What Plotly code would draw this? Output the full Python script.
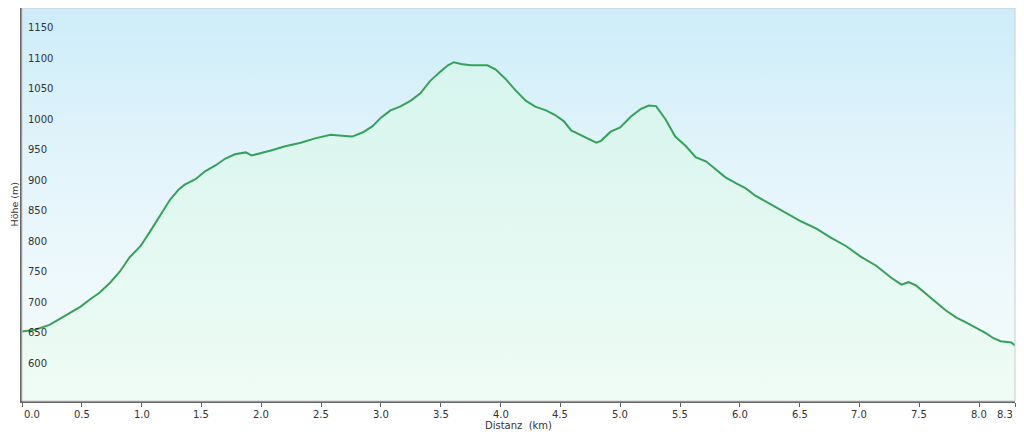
import plotly.graph_objects as go

# Elevation profile (distance km, elevation m)
distance_km = [0.00, 0.11, 0.23, 0.32, 0.40, 0.49, 0.57, 0.65, 0.74, 0.82, 0.90, 0.99,
               1.07, 1.15, 1.24, 1.31, 1.36, 1.45, 1.53, 1.62, 1.70, 1.78, 1.87, 1.92,
               1.99, 2.08, 2.20, 2.33, 2.45, 2.58, 2.70, 2.76, 2.85, 2.93, 3.00, 3.08,
               3.16, 3.25, 3.33, 3.41, 3.50, 3.56, 3.61, 3.67, 3.75, 3.83, 3.89, 3.96,
               4.04, 4.12, 4.21, 4.29, 4.38, 4.46, 4.53, 4.59, 4.67, 4.75, 4.80, 4.84,
               4.92, 5.00, 5.09, 5.17, 5.24, 5.30, 5.38, 5.46, 5.55, 5.63, 5.72, 5.80,
               5.88, 5.97, 6.05, 6.13, 6.26, 6.38, 6.51, 6.64, 6.76, 6.89, 7.01, 7.14,
               7.26, 7.35, 7.41, 7.47, 7.56, 7.64, 7.72, 7.81, 7.89, 7.97, 8.06, 8.12,
               8.18, 8.27, 8.30]
elevation_m = [664, 667, 675, 685, 695, 705, 717, 728, 745, 763, 786, 804,
               828, 854, 881, 897, 905, 914, 927, 937, 948, 955, 958, 953,
               956, 961, 968, 974, 981, 987, 985, 984, 991, 1001, 1015, 1027,
               1033, 1043, 1055, 1075, 1091, 1101, 1106, 1103, 1101, 1101, 1101, 1094,
               1079, 1061, 1043, 1033, 1027, 1019, 1009, 994, 986, 979, 974, 977,
               992, 999, 1017, 1029, 1035, 1034, 1012, 984, 968, 950, 943, 930,
               917, 907, 899, 887, 873, 859, 845, 833, 818, 804, 787, 772,
               753, 741, 745, 740, 726, 712, 699, 687, 679, 671, 661, 653,
               648, 646, 641]

x_tick_vals = [0.0, 0.5, 1.0, 1.5, 2.0, 2.5, 3.0, 3.5, 4.0, 4.5, 5.0, 5.5, 6.0, 6.5, 7.0, 7.5, 8.0, 8.3]
x_tick_text = ["0.0", "0.5", "1.0", "1.5", "2.0", "2.5", "3.0", "3.5", "4.0", "4.5",
               "5.0", "5.5", "6.0", "6.5", "7.0", "7.5", "8.0", "8.3"]
y_tick_vals = [600, 650, 700, 750, 800, 850, 900, 950, 1000, 1050, 1100, 1150]
y_tick_text = ["600", "650", "700", "750", "800", "850", "900", "950", "1000", "1050", "1100", "1150"]

X_RANGE = [0, 8.3]
Y_RANGE = [550, 1195]

FONT = "DejaVu Sans"
TXT = "#333333"

fig = go.Figure()

# plot-area background gradient
fig.add_trace(go.Scatter(
    x=[X_RANGE[0], X_RANGE[1], X_RANGE[1], X_RANGE[0]],
    y=[Y_RANGE[0], Y_RANGE[0], Y_RANGE[1], Y_RANGE[1]],
    fill="toself", mode="none", hoverinfo="skip", showlegend=False,
    fillgradient=dict(type="vertical", start=Y_RANGE[0], stop=Y_RANGE[1],
                      colorscale=[[0, "#f3fbfc"], [0.3, "#eef9fc"], [0.6, "#e3f4fb"], [1, "#cdedf9"]]),
))

# elevation profile
fig.add_trace(go.Scatter(
    x=distance_km, y=elevation_m, mode="lines",
    line=dict(color="#34a259", width=2),
    fill="tozeroy",
    fillgradient=dict(type="vertical", start=Y_RANGE[0], stop=1110,
                      colorscale=[[0, "#effcf5"], [1, "#d6f5ee"]]),
    showlegend=False,
))

annotations = []
for v, t in zip(y_tick_vals, y_tick_text):
    annotations.append(dict(x=0, xref="paper", y=v, yref="y", text=t, showarrow=False,
                            xanchor="left", yanchor="bottom", xshift=4, yshift=0,
                            font=dict(family=FONT, size=10, color=TXT)))
for i, (v, t) in enumerate(zip(x_tick_vals, x_tick_text)):
    anchor = "left" if i == 0 else ("right" if i == len(x_tick_vals) - 1 else "center")
    annotations.append(dict(x=v, xref="x", y=0, yref="paper", text=t, showarrow=False,
                            xanchor=anchor, yanchor="top", yshift=-6,
                            font=dict(family=FONT, size=10, color=TXT)))
annotations.append(dict(x=0.5, xref="paper", y=0, yref="paper", text="Distanz&nbsp;&nbsp;(km)",
                        showarrow=False, xanchor="center", yanchor="middle", yshift=-24,
                        borderpad=0,
                        font=dict(family=FONT, size=10, color=TXT)))
annotations.append(dict(x=0, xref="paper", y=0.5, yref="paper", text="Höhe (m)", textangle=-90,
                        showarrow=False, xanchor="center", yanchor="middle", xshift=-8,
                        font=dict(family=FONT, size=9.5, color=TXT)))

fig.update_layout(
    width=1016, height=423,
    margin=dict(l=14, r=9, t=0, b=30),
    paper_bgcolor="white", plot_bgcolor="white",
    annotations=annotations,
    shapes=[dict(type="rect", xref="paper", yref="paper", x0=0, x1=1, y0=0, y1=1,
                 line=dict(color="#cccccc", width=1), layer="above")],
    xaxis=dict(range=X_RANGE, tickvals=x_tick_vals, showticklabels=False,
               showgrid=False, zeroline=False, showline=True, linecolor="#666666", linewidth=2,
               ticks="outside", ticklen=4, tickcolor="#666666", tickwidth=1, automargin=False),
    yaxis=dict(range=Y_RANGE, tickvals=y_tick_vals, showticklabels=False,
               showgrid=True, gridcolor="#c6d5d9", gridwidth=1.5, zeroline=False,
               showline=True, linecolor="#666666", linewidth=2, ticks="", automargin=False),
)

fig.write_html("out.html")
